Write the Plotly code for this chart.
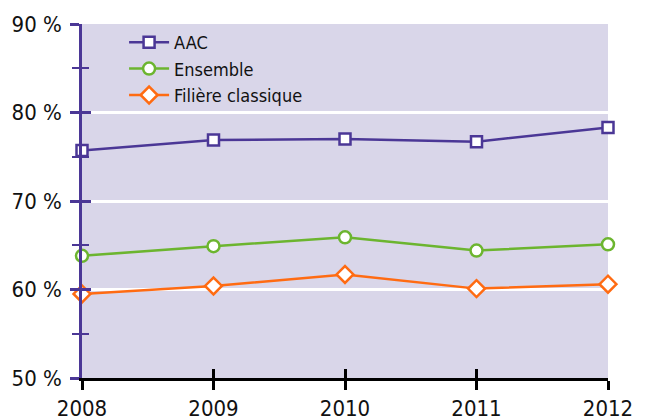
import plotly.graph_objects as go

years = [2008, 2009, 2010, 2011, 2012]
aac = [75.7, 76.9, 77.0, 76.7, 78.3]
ensemble = [63.8, 64.9, 65.9, 64.4, 65.1]
filiere = [59.5, 60.4, 61.7, 60.1, 60.6]
series_names = ["AAC", "Ensemble", "Filière classique"]
y_tickvals = [50, 60, 70, 80, 90]
y_ticktext = ["50 %", "60 %", "70 %", "80 %", "90 %"]

PURPLE = "#4b3796"
GREEN = "#6cb52f"
ORANGE = "#ff6b12"
BG = "#d9d6e9"
FONT = "Liberation Sans Narrow, DejaVu Sans Condensed, Roboto, sans-serif"

fig = go.Figure()
specs = [
    (aac, series_names[0], PURPLE, "square", 11),
    (ensemble, series_names[1], GREEN, "circle", 12),
    (filiere, series_names[2], ORANGE, "diamond", 13),
]
for vals, name, col, sym, sz in specs:
    fig.add_trace(go.Scatter(
        x=years, y=vals, name=name, mode="lines+markers",
        line=dict(color=col, width=2.5),
        marker=dict(symbol=sym, size=sz, color="white", line=dict(color=col, width=2.5)),
        cliponaxis=False,
    ))

# invisible trace for overlay axes (inside ticks)
fig.add_trace(go.Scatter(x=years, y=aac, xaxis="x2", yaxis="y2", mode="markers",
                         marker=dict(opacity=0), showlegend=False, hoverinfo="skip"))

fig.update_layout(
    width=648, height=419,
    margin=dict(l=74, r=48, t=16, b=49, autoexpand=False),
    paper_bgcolor="white", plot_bgcolor=BG,
    font=dict(family=FONT, size=22, color="#111111"),
    showlegend=True,
    legend=dict(x=0.08, y=1.0, xanchor="left", yanchor="top", bgcolor="rgba(0,0,0,0)",
                font=dict(family=FONT, size=18, color="#111111"),
                tracegroupgap=0, itemwidth=40),
    xaxis=dict(range=[2008, 2012], tickvals=years, ticktext=[str(y) for y in years],
               automargin=False,
               showgrid=False, zeroline=False, showline=True, linecolor="black", linewidth=2.5,
               ticks="outside", ticklen=9, tickwidth=2.5, tickcolor="black",
               tickfont=dict(family=FONT, size=22, color="#111111")),
    yaxis=dict(range=[50, 90], tickvals=y_tickvals, ticktext=y_ticktext,
               automargin=False,
               showgrid=True, gridcolor="white", gridwidth=2.5, zeroline=False,
               showline=True, linecolor=PURPLE, linewidth=2.5,
               ticks="outside", ticklen=9, tickwidth=2.5, tickcolor=PURPLE,
               minor=dict(dtick=5, ticks="outside", ticklen=7, tickwidth=2, tickcolor=PURPLE, showgrid=False),
               ticklabelstandoff=4,
               tickfont=dict(family=FONT, size=22, color="#111111")),
    xaxis2=dict(range=[2008, 2012], overlaying="x", anchor="y2", side="bottom",
                automargin=False,
                tickvals=years, showticklabels=False, showgrid=False, zeroline=False,
                ticks="inside", ticklen=9, tickwidth=2.5, tickcolor="black", showline=False),
    yaxis2=dict(range=[50, 90], overlaying="y", anchor="x2", side="left",
                automargin=False,
                tickvals=y_tickvals, showticklabels=False, showgrid=False, zeroline=False,
                ticks="inside", ticklen=9, tickwidth=2.5, tickcolor=PURPLE, showline=False,
                minor=dict(dtick=5, ticks="inside", ticklen=7, tickwidth=2, tickcolor=PURPLE)),
)

fig.write_html("out.html")
